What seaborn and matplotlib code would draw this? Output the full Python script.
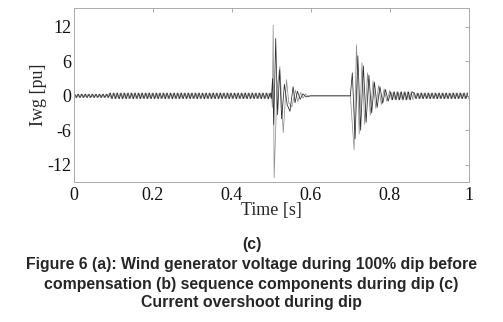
import numpy as np
import pandas as pd
import matplotlib
matplotlib.use("Agg")
import matplotlib.pyplot as plt
import seaborn as sns

# spacing between turning points of one trace (s)
half_cycle = 0.0045

# steady bands: start (s), end (s), peak (pu)
band_start = [0.00, 0.09, 0.80, 0.86]
band_end = [0.09, 0.50, 0.86, 1.00]
band_peak = [0.30, 0.50, 0.70, 0.50]

# turning points of the grey trace during the dip start transient
dip_t_a = [0.5000, 0.5025, 0.5046, 0.5070, 0.5140, 0.5215, 0.5300, 0.5385, 0.5440,
           0.5520, 0.5610, 0.5670, 0.5740, 0.5800, 0.5870, 0.5940, 0.6000]
dip_v_a = [0.4, -2.0, 12.3, -14.3, 1.0, 5.1, -6.4, 2.8, -1.2,
           -1.9, 1.0, -1.0, 0.6, -0.4, 0.3, -0.15, 0.0]
# black trace during the dip start transient
dip_t_b = [0.5000, 0.5030, 0.5060, 0.5110, 0.5157, 0.5210, 0.5260, 0.5330, 0.5400,
           0.5470, 0.5550, 0.5600, 0.5660, 0.5730, 0.5800, 0.5880, 0.5960]
dip_v_b = [-0.4, 3.0, -5.0, 10.0, -3.3, 4.5, -4.0, 2.0, -1.5,
           -2.7, 1.6, -1.2, 0.8, -0.6, 0.35, -0.2, 0.0]

# recovery transient after the dip clears at 0.7 s
rec_t_a = [0.6000, 0.7000, 0.7095, 0.7155, 0.7225, 0.7295, 0.7365, 0.7435, 0.7505,
           0.7575, 0.7645, 0.7715, 0.7785, 0.7855, 0.7925, 0.7995]
rec_v_a = [0.0, 0.0, -9.4, 8.9, -6.6, 5.8, -5.0, 4.0, -3.4,
           2.6, -2.2, 1.8, -1.5, 1.2, -1.0, 0.9]
rec_t_b = [0.6000, 0.7000, 0.7050, 0.7120, 0.7190, 0.7260, 0.7330, 0.7400, 0.7470,
           0.7540, 0.7610, 0.7680, 0.7750, 0.7820, 0.7890, 0.7960]
rec_v_b = [0.0, 0.0, 4.0, -7.5, 7.0, -6.0, 5.2, -4.6, 3.6,
           -3.0, 2.4, -2.0, 1.6, -1.3, 1.1, -0.9]


def band(start, end, peak, offset):
    t = np.arange(start + offset, end, half_cycle)
    sign = np.where(np.arange(len(t)) % 2 == 0, 1, -1)
    return list(t), list(sign * peak)


def trace(offset, dip_t, dip_v, rec_t, rec_v, name):
    ts, vs = [], []
    for s, e, p in zip(band_start[:2], band_end[:2], band_peak[:2]):
        t, v = band(s, e, p, offset)
        ts += t
        vs += v
    ts += dip_t + rec_t
    vs += dip_v + rec_v
    for s, e, p in zip(band_start[2:], band_end[2:], band_peak[2:]):
        t, v = band(s, e, p, offset)
        ts += t
        vs += v
    return pd.DataFrame({"t": ts, "iwg": vs, "trace": name})


df = pd.concat([
    trace(0.0, dip_t_a, dip_v_a, rec_t_a, rec_v_a, "a"),
    trace(half_cycle / 2, dip_t_b, dip_v_b, rec_t_b, rec_v_b, "b"),
], ignore_index=True)

sns.set_style("white")
plt.rcParams["font.family"] = ["Liberation Serif", "DejaVu Serif"]
plt.rcParams["axes.unicode_minus"] = False

fig = plt.figure(figsize=(5.03, 3.22), dpi=100)
ax = fig.add_axes([0.147, 0.435, 0.785, 0.54])

sns.lineplot(data=df, x="t", y="iwg", hue="trace", palette={"a": "#909090", "b": "#2a2a2a"},
             estimator=None, sort=False, linewidth=0.55, legend=False, ax=ax)

ax.set_xlim(0, 1)
ax.set_ylim(-15, 15.3)
ax.set_xticks([0, 0.2, 0.4, 0.6, 0.8, 1])
ax.set_xticklabels(["0", "0.2", "0.4", "0.6", "0.8", "1"])
ax.set_yticks([-12, -6, 0, 6, 12])
ax.tick_params(direction="in", top=True, right=True, length=3, width=0.6,
               color="#999999", labelsize=13, labelcolor="#111111")
ax.tick_params(axis="y", pad=2)
ax.tick_params(axis="x", pad=4)
for sp in ax.spines.values():
    sp.set_color("#aaaaaa")
    sp.set_linewidth(0.7)
ax.set_xlabel("Time [s]", fontsize=13, labelpad=-2)
ax.set_ylabel("Iwg [pu]", fontsize=13, labelpad=0)

cap = {"ha": "center", "va": "center", "fontsize": 11.4, "fontweight": "bold",
       "family": ["Liberation Sans", "DejaVu Sans"]}
fig.text(0.5, 1 - 245 / 322, "(c)", **cap)
fig.text(0.5, 1 - 265 / 322, "Figure 6 (a): Wind generator voltage during 100% dip before", **cap)
fig.text(0.5, 1 - 284 / 322, "compensation (b) sequence components during dip (c)", **cap)
fig.text(0.5, 1 - 303 / 322, "Current overshoot during dip", **cap)

fig.savefig("out.png", dpi=100)
